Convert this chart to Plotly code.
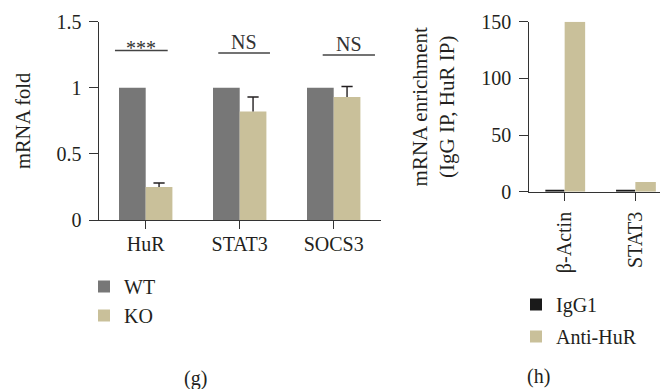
import plotly.graph_objects as go

# ---- data ----
genes_g = ["HuR", "STAT3", "SOCS3"]
wt_vals = [1.0, 1.0, 1.0]
ko_vals = [0.25, 0.82, 0.93]
ko_err = [0.03, 0.11, 0.08]
sig_labels = ["***", "NS", "NS"]
sig_heights = [1.283, 1.263, 1.248]
sig_left = [-0.327, -0.228, -0.117]
sig_right = [0.234, 0.322, 0.439]

genes_h = ["β-Actin", "STAT3"]
igg_vals = [1.2, 1.0]
antihur_vals = [150, 8.6]

g_ticks = [0, 0.5, 1, 1.5]
g_ticktext = ["0", "0.5", "1", "1.5"]
h_ticks = [0, 50, 100, 150]
h_ticktext = ["0", "50", "100", "150"]

W, H = 660, 389
FONT = "Liberation Serif"
TXT = "#231f20"
AX = "#333333"
GRAY = "#777777"
TAN = "#c9c09a"
BLACK = "#1a1a1a"
FS = 20
BW = 0.284

def px(x):
    return x / W

def py(y):
    return 1 - y / H

fig = go.Figure()

idx_g = list(range(len(genes_g)))
idx_h = list(range(len(genes_h)))

fig.add_trace(go.Bar(x=idx_g, y=wt_vals, name="WT", marker_color=GRAY, marker_line_width=0,
                     width=BW, offset=-BW, xaxis="x", yaxis="y", legend="legend"))
fig.add_trace(go.Bar(x=idx_g, y=ko_vals, name="KO", marker_color=TAN, marker_line_width=0,
                     width=BW, offset=0, xaxis="x", yaxis="y", legend="legend"))

# one-sided error bars (upper only) built from the data arrays
ex, ey = [], []
for i, (v, e) in enumerate(zip(ko_vals, ko_err)):
    ex += [i + BW / 2, i + BW / 2, None]
    ey += [v, v + e, None]
fig.add_trace(go.Scatter(x=ex, y=ey, mode="lines", line=dict(color=TXT, width=1.4),
                         showlegend=False, hoverinfo="skip", xaxis="x", yaxis="y"))
fig.add_trace(go.Scatter(x=[i + BW / 2 for i in idx_g], y=[v + e for v, e in zip(ko_vals, ko_err)],
                         mode="markers", marker=dict(symbol="line-ew", size=8,
                                                     line=dict(color=TXT, width=1.4)),
                         showlegend=False, hoverinfo="skip", xaxis="x", yaxis="y"))

fig.add_trace(go.Bar(x=idx_h, y=igg_vals, name="IgG1", marker_color=BLACK, marker_line_width=0,
                     width=0.27, offset=-0.273, xaxis="x2", yaxis="y2", legend="legend2",
                     legendgroup="a"))
fig.add_trace(go.Bar(x=idx_h, y=antihur_vals, name="Anti-HuR", marker_color=TAN, marker_line_width=0,
                     width=0.29, offset=0, xaxis="x2", yaxis="y2", legend="legend2",
                     legendgroup="b"))

# significance lines and labels
for i, (lab, h, l, r) in enumerate(zip(sig_labels, sig_heights, sig_left, sig_right)):
    fig.add_shape(type="line", xref="x", yref="y", x0=i + l, x1=i + r, y0=h, y1=h,
                  line=dict(color="#444444", width=1.5))
    fig.add_annotation(xref="x", yref="y", x=i + (l + r) / 2, y=h, text=lab, showarrow=False,
                       yanchor="bottom", font=dict(family=FONT, size=FS, color="#333333"),
                       yshift=(-11 if lab == "***" else -2))

axis_common = dict(showline=True, linecolor=AX, linewidth=1.3, ticks="outside",
                   tickcolor=AX, tickwidth=1.3, showgrid=False, zeroline=False,
                   automargin=False,
                   tickfont=dict(family=FONT, size=FS, color=TXT))

fig.update_layout(
    width=W, height=H, margin=dict(l=0, r=0, t=0, b=0, autoexpand=False),
    paper_bgcolor="white", plot_bgcolor="white",
    barmode="overlay", showlegend=True,
    xaxis=dict(domain=[px(98.7), px(380.7)], range=[-0.5, 2.5], anchor="y", ticklen=8,
               ticklabelstandoff=-2, tickvals=idx_g, ticktext=genes_g, **axis_common),
    yaxis=dict(domain=[py(220), py(21.7)], range=[0, 1.5], anchor="x", ticklen=9,
               ticklabelstandoff=3, tickvals=g_ticks, ticktext=g_ticktext, **axis_common),
    xaxis2=dict(domain=[px(529.3), 1], range=[-0.5, 1.3487], anchor="y2", ticklen=8,
                ticklabelstandoff=3, tickvals=idx_h, ticktext=genes_h, tickangle=-90,
                **axis_common),
    yaxis2=dict(domain=[py(191.7), py(21.7)], range=[0, 150], anchor="x2", ticklen=9,
                ticklabelstandoff=4, tickvals=h_ticks, ticktext=h_ticktext, **axis_common),
    legend=dict(x=px(84), y=py(267), xanchor="left", yanchor="top", bgcolor="rgba(0,0,0,0)",
                font=dict(family=FONT, size=FS, color=TXT)),
    legend2=dict(x=px(516), y=py(285), xanchor="left", yanchor="top", bgcolor="rgba(0,0,0,0)",
                 font=dict(family=FONT, size=FS, color=TXT), traceorder="grouped",
                 tracegroupgap=3),
)

# axis titles and panel labels
fig.add_annotation(xref="paper", yref="paper", x=px(23), y=py(121), text="mRNA fold",
                   textangle=-90, showarrow=False, xanchor="center", yanchor="middle",
                   font=dict(family=FONT, size=FS + 0.5, color=TXT))
fig.add_annotation(xref="paper", yref="paper", x=px(433.7), y=py(106.7),
                   text="mRNA enrichment<br>(IgG IP, HuR IP)",
                   textangle=-90, showarrow=False, xanchor="center", yanchor="middle",
                   font=dict(family=FONT, size=FS + 1, color=TXT))
fig.add_annotation(xref="paper", yref="paper", x=px(195), y=py(378), text="(g)",
                   showarrow=False, xanchor="center", yanchor="middle",
                   font=dict(family=FONT, size=FS, color=TXT))
fig.add_annotation(xref="paper", yref="paper", x=px(538.3), y=py(376.7), text="(h)",
                   showarrow=False, xanchor="center", yanchor="middle",
                   font=dict(family=FONT, size=FS, color=TXT))

fig.write_html("out.html", config={"displayModeBar": False},
               post_script="document.body.style.margin='0px';")
